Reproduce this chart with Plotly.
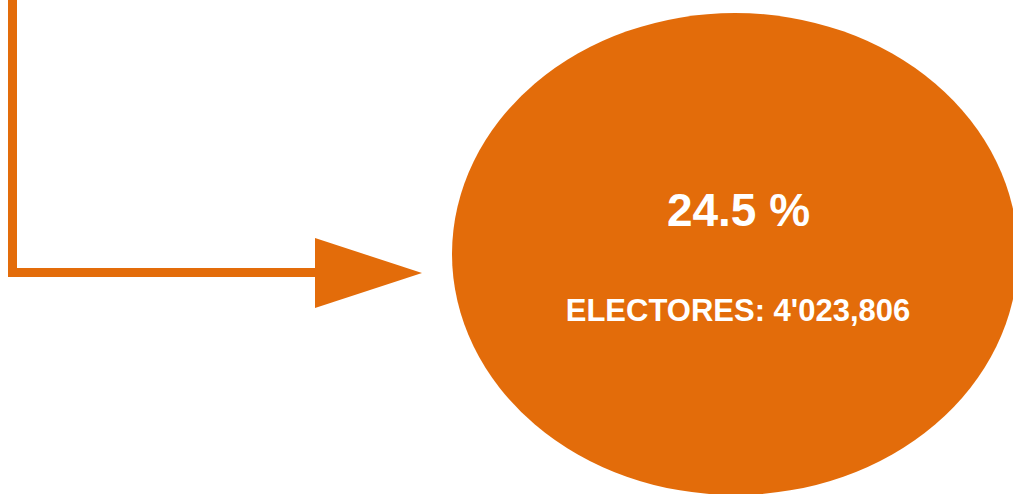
import plotly.graph_objects as go

# values
percentage = [24.5]
electores = [4023806]
label_prefix = ["ELECTORES"]

ORANGE = "#E36C0A"
W, H = 1013, 494

def fmt_electores(n):
    s = f"{n:,}"
    parts = s.split(",")
    if len(parts) > 2:
        return parts[0] + "'" + ",".join(parts[1:])
    return s

fig = go.Figure()

# ellipse
fig.add_shape(type="circle", xref="x", yref="y",
              x0=452, x1=1018, y0=13, y1=495,
              fillcolor=ORANGE, line=dict(width=0), layer="below")
# connector line
fig.add_shape(type="path", xref="x", yref="y",
              path="M 12.5 -5 L 12.5 272.5 L 318 272.5",
              line=dict(color=ORANGE, width=9), fillcolor="rgba(0,0,0,0)")
# arrow head
fig.add_shape(type="path", xref="x", yref="y",
              path="M 315 238 L 422 273 L 315 308 Z",
              fillcolor=ORANGE, line=dict(width=0))

fig.add_trace(go.Scatter(
    x=[738.5], y=[214],
    mode="text",
    text=[f"<b>{percentage[0]} %</b>"],
    textfont=dict(family="Liberation Sans, Arial", size=46, color="white"),
    textposition="middle center", hoverinfo="skip", showlegend=False))
fig.add_trace(go.Scatter(
    x=[738], y=[313],
    mode="text",
    text=[f"<b>{label_prefix[0]}: {fmt_electores(electores[0])}</b>"],
    textfont=dict(family="Liberation Sans, Arial", size=31, color="white"),
    textposition="middle center", hoverinfo="skip", showlegend=False))

fig.update_xaxes(range=[0, W], visible=False, fixedrange=True)
fig.update_yaxes(range=[H, 0], visible=False, fixedrange=True)
fig.update_layout(width=W, height=H, margin=dict(l=0, r=0, t=0, b=0),
                  paper_bgcolor="white", plot_bgcolor="white", showlegend=False)

fig.write_html("out.html", config={"displayModeBar": False},
               post_script="document.body.style.margin='0';document.body.style.overflow='hidden';")
